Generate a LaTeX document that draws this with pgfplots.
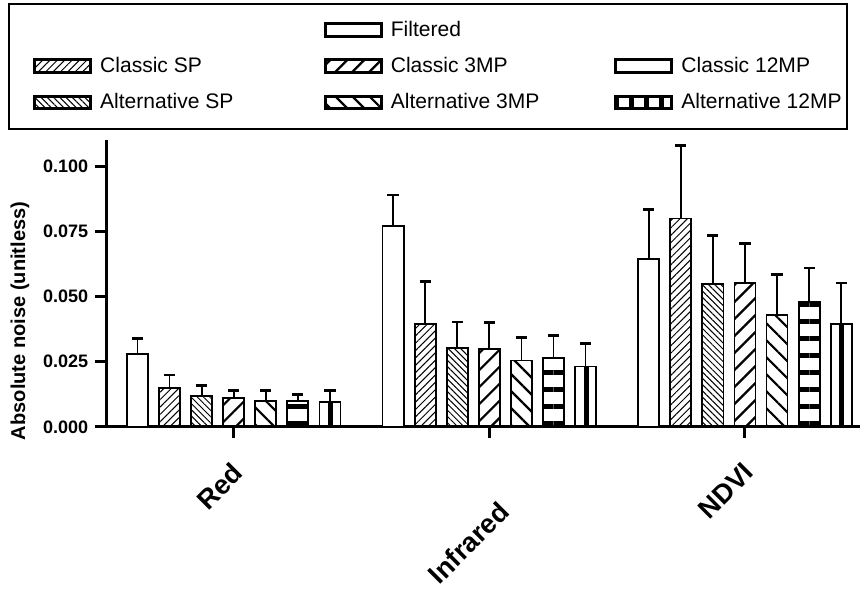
\documentclass[border=0pt]{standalone}
\usepackage{fontspec}
\setmainfont{Liberation Sans}
\usepackage{pgfplots}
\pgfplotsset{compat=1.18}
\usetikzlibrary{patterns.meta}

\tikzset{
  pFil/.style={fill=white},
  pCSP/.style={pattern={Lines[angle=45,distance=2.6pt,line width=0.5pt]}},
  pASP/.style={pattern={Lines[angle=-45,distance=2.2pt,line width=0.5pt]}},
  pC3/.style={pattern={Lines[angle=45,distance=6pt,line width=1.1pt]}},
  pA3/.style={pattern={Lines[angle=-45,distance=6pt,line width=1.1pt]}},
  pC12/.style={pattern={Lines[angle=0,distance=8.5pt,line width=2.6pt]}},
  pA12/.style={pattern={Lines[angle=90,distance=7.5pt,line width=2.6pt]}},
}
\pgfplotsset{
  barb/.style={ybar, bar width=0.0824, bar shift=0pt, draw=black, line width=0.9pt,
    error bars/y dir=plus, error bars/y explicit,
    error bars/error mark=|,
    error bars/error bar style={line width=0.9pt, black},
    error bars/error mark options={line width=1.3pt, mark size=2.8pt, black}},
}
\newcommand{\lgw}[1]{\makebox[107.5pt][l]{#1}}
\newcommand{\lgn}[1]{\makebox[68.5pt][l]{#1}}

\begin{document}
\begin{tikzpicture}
\begin{axis}[
  scale only axis, width=376pt, height=143pt,
  xmin=-0.498, xmax=2.45, ymin=0, ymax=0.11,
  axis x line*=bottom, axis y line*=left,
  axis line style={line width=1.5pt, black},
  tick align=outside,
  major tick length=5.5pt,
  tick style={line width=1.5pt, black},
  xtick={0,2}, xticklabels={Red,NDVI},
  x tick label style={xshift=-1.5pt, yshift=-10pt, rotate=45, anchor=north east, font=\fontsize{13.5}{16}\selectfont\bfseries, inner sep=1pt},
  extra x ticks={1}, extra x tick labels={Infrared},
  extra x tick style={x tick label style={xshift=-9.9pt, yshift=-17.5pt}},
  ytick={0,0.025,0.05,0.075,0.1},
  scaled y ticks=false,
  y tick label style={font=\fontsize{9}{11}\selectfont\bfseries, /pgf/number format/.cd, fixed, fixed zerofill, precision=3, assume math mode=true},
  ylabel={Absolute noise (unitless)},
  ylabel style={font=\fontsize{10}{12}\selectfont\bfseries, at={(ticklabel cs:0.37)}},
  legend columns=3,
  legend cell align=left,
  legend image code/.code={\draw[line width=1.5pt,#1] (0pt,-3.2pt) rectangle (28pt,3.2pt);},
  legend style={at={(-0.1303,1.479)}, anchor=north west, draw=black, line width=0.8pt,
    font=\fontsize{10.5}{12}\selectfont, inner xsep=12pt, inner ysep=6.5pt,
    column sep=2pt, row sep=5pt},
]
% Filtered
\addplot[barb, pFil, forget plot] coordinates {(-0.3765,0.028) +- (0,0.006) (0.6235,0.077) +- (0,0.012) (1.6235,0.0645) +- (0,0.019)};
% Classic SP
\addplot[barb, pCSP, forget plot] coordinates {(-0.251,0.015) +- (0,0.005) (0.749,0.0394) +- (0,0.0164) (1.749,0.080) +- (0,0.028)};
% Alternative SP
\addplot[barb, pASP, forget plot] coordinates {(-0.1255,0.012) +- (0,0.004) (0.8745,0.0303) +- (0,0.010) (1.8745,0.0547) +- (0,0.0188)};
% Classic 3MP
\addplot[barb, pC3, forget plot] coordinates {(0,0.011) +- (0,0.003) (1,0.030) +- (0,0.010) (2,0.0552) +- (0,0.0153)};
% Alternative 3MP
\addplot[barb, pA3, forget plot] coordinates {(0.1255,0.010) +- (0,0.004) (1.1255,0.0255) +- (0,0.0089) (2.1255,0.043) +- (0,0.0155)};
% Classic 12MP
\addplot[barb, pC12, forget plot] coordinates {(0.251,0.0098) +- (0,0.0027) (1.251,0.0263) +- (0,0.0089) (2.251,0.048) +- (0,0.013)};
% Alternative 12MP
\addplot[barb, pA12, forget plot] coordinates {(0.3765,0.0095) +- (0,0.0045) (1.3765,0.0232) +- (0,0.0088) (2.3765,0.0394) +- (0,0.0159)};

\addlegendimage{empty legend}\addlegendentry{\lgw{}}
\addlegendimage{pFil}\addlegendentry{\lgw{Filtered}}
\addlegendimage{empty legend}\addlegendentry{\lgn{}}
\addlegendimage{pCSP}\addlegendentry{\lgw{Classic SP}}
\addlegendimage{pC3}\addlegendentry{\lgw{Classic 3MP}}
\addlegendimage{fill=white}\addlegendentry{\lgn{Classic 12MP}}
\addlegendimage{pASP}\addlegendentry{\lgw{Alternative SP}}
\addlegendimage{pA3}\addlegendentry{\lgw{Alternative 3MP}}
\addlegendimage{pA12}\addlegendentry{\lgn{Alternative 12MP}}
\end{axis}
\path ([xshift=-2pt,yshift=1.5pt]current bounding box.north west);
\path (current axis.south east) ++(2pt,-92pt);
\end{tikzpicture}
\end{document}
